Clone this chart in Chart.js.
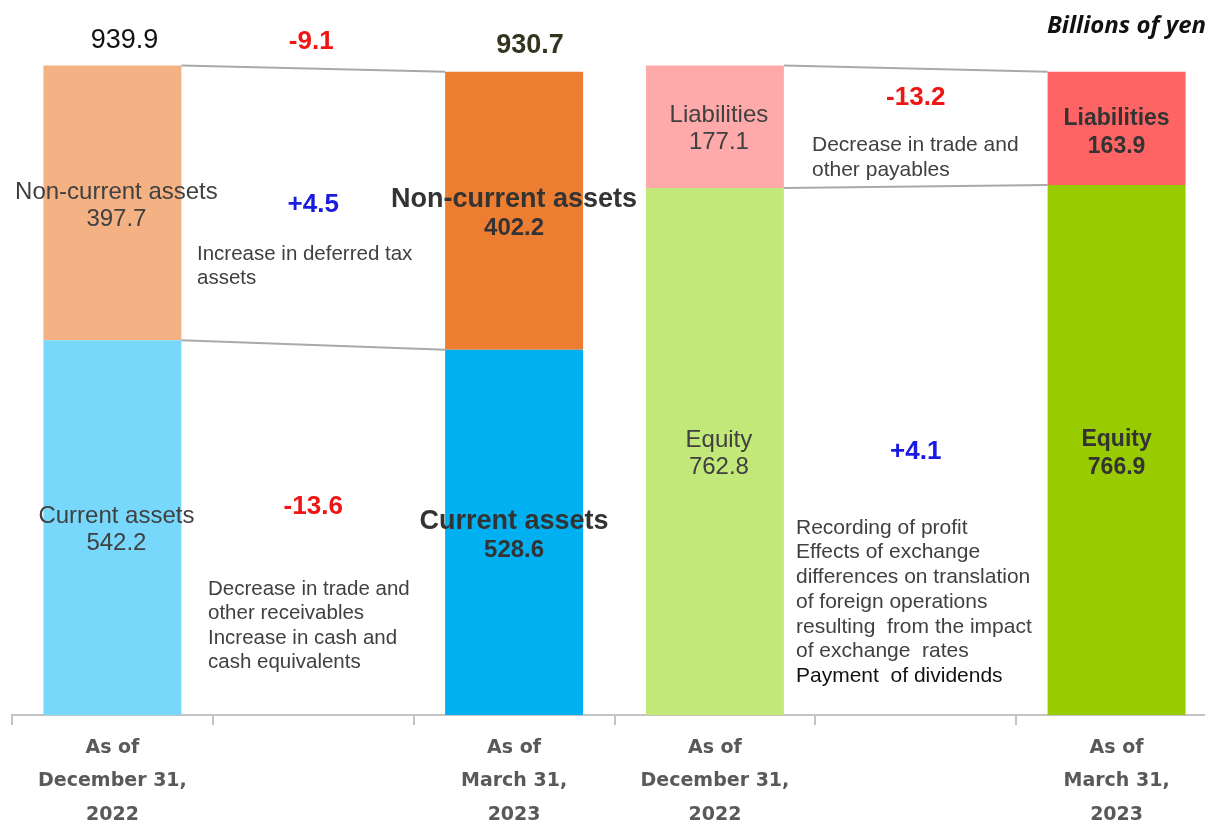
<!DOCTYPE html>
<html>
<head>
<meta charset="utf-8">
<script src="https://cdn.jsdelivr.net/npm/chart.js@4"></script>
<style>
html, body { margin: 0; padding: 0; background: #fff; overflow: hidden; }
#wrap { position: relative; width: 1230px; height: 821px; }
</style>
</head>
<body>
<div id="wrap"><canvas id="myChart"></canvas></div>
<script>
var graph;

// categories (two gap columns hold the change notes)
const categories = [
    ['As of', 'December 31,', '2022'], '',
    ['As of', 'March 31,', '2023'],
    ['As of', 'December 31,', '2022'], '',
    ['As of', 'March 31,', '2023']
];

// Billions of yen
const currentAssets    = [542.2, null, 528.6, null, null, null];
const nonCurrentAssets = [397.7, null, 402.2, null, null, null];
const equity           = [null, null, null, 762.8, null, 766.9];
const liabilities      = [null, null, null, 177.1, null, 163.9];
const totalAssets      = [939.9, null, 930.7, null, null, null];

const changeTotal       = '-9.1';
const changeNonCurrent  = '+4.5';
const changeCurrent     = '-13.6';
const changeLiabilities = '-13.2';
const changeEquity      = '+4.1';

const noteNonCurrent  = ['Increase in deferred tax', 'assets'];
const noteCurrent     = ['Decrease in trade and', 'other receivables', 'Increase in cash and', 'cash equivalents'];
const noteLiabilities = ['Decrease in trade and', 'other payables'];
const noteEquity      = ['Recording of profit', 'Effects of exchange', 'differences on translation',
                         'of foreign operations', 'resulting  from the impact', 'of exchange  rates'];
const noteEquityLast  = 'Payment  of dividends';
const unitLabel = 'Billions of yen';

const SANS = '"Liberation Sans", Arial, sans-serif';

function lines(ctx, arr, x, y, lh) {
    arr.forEach(function (l, i) { ctx.fillText(l, x, y + i * lh); });
}

const overlay = {
    id: 'overlay',
    afterDatasetsDraw(chart) {
        const ctx = chart.ctx;
        const xs = chart.scales.x;
        ctx.save();

        // connector lines between the two periods
        ctx.strokeStyle = '#a9a9a9';
        ctx.lineWidth = 2;
        [[0, 1, 0, 2], [2, 3, 3, 5]].forEach(function (p) {
            const low = chart.getDatasetMeta(p[0]).data;
            const top = chart.getDatasetMeta(p[1]).data;
            const a = p[2], b = p[3];
            [[top[a].y, top[b].y], [low[a].y, low[b].y]].forEach(function (yy) {
                ctx.beginPath();
                ctx.moveTo(top[a].x + top[a].width / 2, yy[0]);
                ctx.lineTo(top[b].x - top[b].width / 2, yy[1]);
                ctx.stroke();
            });
        });

        // segment labels
        ctx.textAlign = 'center';
        ctx.textBaseline = 'middle';
        chart.data.datasets.forEach(function (ds, di) {
            chart.getDatasetMeta(di).data.forEach(function (el, j) {
                const v = ds.data[j];
                if (v == null) return;
                const cy = (el.y + el.base) / 2;
                const later = (j === 2 || j === 5);
                const isAssets = di < 2;
                ctx.fillStyle = '#404040';
                if (!later) {
                    ctx.font = '24px ' + SANS;
                    ctx.fillText(ds.label, el.x + 4, cy - 11);
                    ctx.fillText(v.toFixed(1), el.x + 4, cy + 16);
                } else if (isAssets) {
                    ctx.fillStyle = '#333333';
                    ctx.font = 'bold 27px ' + SANS;
                    ctx.fillText(ds.label, el.x, cy - 11);
                    ctx.font = 'bold 24px ' + SANS;
                    ctx.fillText(v.toFixed(1), el.x, cy + 18);
                } else {
                    ctx.fillStyle = '#333333';
                    ctx.font = 'bold 23px ' + SANS;
                    ctx.fillText(ds.label, el.x, cy - 10);
                    ctx.fillText(v.toFixed(1), el.x, cy + 18);
                }
            });
        });

        // totals above asset bars
        const topMeta = chart.getDatasetMeta(1).data;
        ctx.fillStyle = '#111111';
        ctx.font = '27px ' + SANS;
        ctx.fillText(totalAssets[0].toFixed(1), topMeta[0].x + 12, topMeta[0].y - 25);
        ctx.fillStyle = '#33331f';
        ctx.font = 'bold 27px ' + SANS;
        ctx.fillText(totalAssets[2].toFixed(1), topMeta[2].x + 16, topMeta[2].y - 26);

        // change values
        const g1 = xs.getPixelForValue(1), g2 = xs.getPixelForValue(4);
        ctx.font = 'bold 26px ' + SANS;
        ctx.fillStyle = '#f01414';
        ctx.fillText(changeTotal, g1 - 2, 42);
        ctx.fillText(changeCurrent, g1, 507);
        ctx.fillText(changeLiabilities, g2, 98);
        ctx.fillStyle = '#1a1ae0';
        ctx.fillText(changeNonCurrent, g1, 205);
        ctx.fillText(changeEquity, g2, 452);

        // notes
        ctx.textAlign = 'left';
        ctx.fillStyle = '#404040';
        ctx.font = '20.5px ' + SANS;
        lines(ctx, noteNonCurrent, 197, 254, 24);
        lines(ctx, noteCurrent, 208, 589, 24.5);
        ctx.font = '21px ' + SANS;
        lines(ctx, noteLiabilities, 812, 145, 25);
        lines(ctx, noteEquity, 796, 528, 24.7);
        ctx.fillStyle = '#111111';
        ctx.fillText(noteEquityLast, 796, 676);

        // unit
        ctx.textAlign = 'right';
        ctx.font = 'italic bold 24px "Open Sans", sans-serif';
        ctx.fillStyle = '#111111';
        ctx.fillText(unitLabel, 1206, 26);
        ctx.restore();
    }
};

(function () {
    const ctx = document.querySelector('#myChart');
    graph = new Chart(ctx, {
        type: 'bar',
        data: {
            labels: categories,
            datasets: [
                { label: 'Current assets', data: currentAssets,
                  backgroundColor: ['#78d8fc', null, '#00b0f0'] },
                { label: 'Non-current assets', data: nonCurrentAssets,
                  backgroundColor: ['#f4b183', null, '#ed7d31'] },
                { label: 'Equity', data: equity,
                  backgroundColor: [null, null, null, '#c3e87a', null, '#99cc00'] },
                { label: 'Liabilities', data: liabilities,
                  backgroundColor: [null, null, null, '#ffaaaa', null, '#ff6464'] }
            ]
        },
        options: {
            responsive: true,
            maintainAspectRatio: false,
            animation: false,
            layout: { padding: { left: 12, right: 13, top: 24, bottom: 0 } },
            datasets: { bar: { categoryPercentage: 1, barPercentage: 0.687 } },
            plugins: {
                legend: { display: false },
                tooltip: { enabled: false }
            },
            scales: {
                x: {
                    stacked: true,
                    afterFit(s) { s.height = 106; },
                    border: { color: '#c4c4c4', width: 2 },
                    grid: { offset: true, drawOnChartArea: false, tickLength: 10, color: '#c4c4c4', lineWidth: 2 },
                    ticks: {
                        padding: 6,
                        color: '#595959',
                        font: { family: '"DejaVu Sans", Verdana, sans-serif', size: 19, weight: 'bold', lineHeight: 1.76 }
                    }
                },
                y: {
                    stacked: true,
                    display: false,
                    min: 0,
                    max: 1000
                }
            }
        },
        plugins: [overlay]
    });
})();
</script>
</body>
</html>
